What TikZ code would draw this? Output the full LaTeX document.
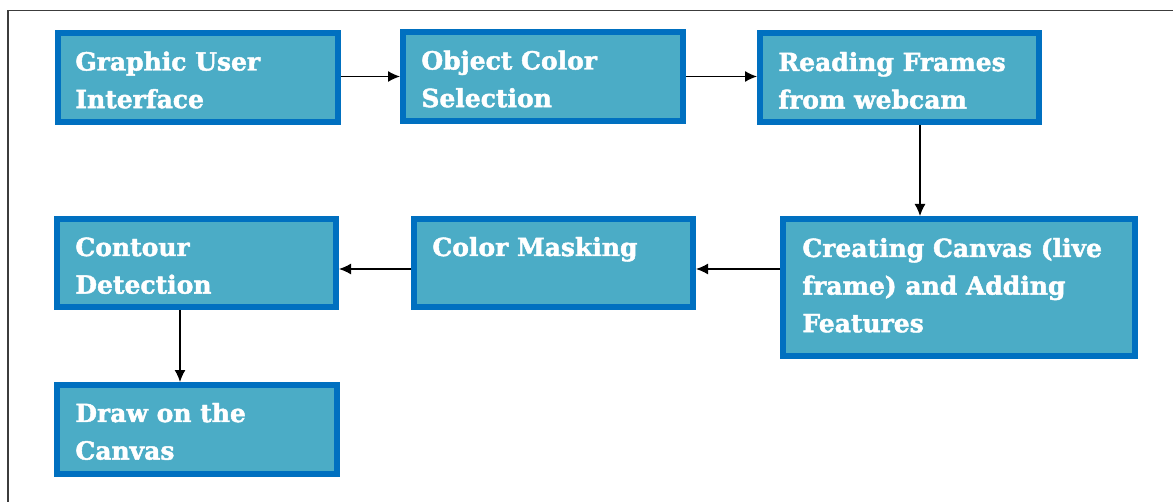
\documentclass[tikz,border=0pt]{standalone}
\usepackage{fontspec}
\newfontfamily\stepfont[FakeBold=1.8]{DejaVu Serif Bold}
\usetikzlibrary{shadows,arrows.meta,calc}
\definecolor{boxedge}{RGB}{0,112,192}
\definecolor{boxfill}{RGB}{75,172,198}
\definecolor{framecol}{RGB}{60,60,60}
\tikzset{
  stepbox/.style 2 args={draw=boxedge, fill=boxfill, line width=3pt, inner sep=0pt,
    minimum width=#1, minimum height=#2,
    drop shadow={shadow xshift=1.2pt, shadow yshift=-1.2pt, fill=black!35, opacity=0.5}},
  steptext/.style={anchor=base west, inner sep=0pt, text=white,
    font=\stepfont\fontsize{12.5}{18.8}\selectfont},
  flow/.style={line width=0.65pt, black, -{Latex[length=6pt,width=5.5pt]}},
}
\newcommand{\steplines}[1]{\parbox[t]{175pt}{\raggedright #1}}
\begin{document}
\begin{tikzpicture}[x=0.5pt,y=-0.5pt]
  \useasboundingbox (0,0) rectangle (1173,502);
  % page frame (top and left edges)
  \draw[framecol, line width=0.8pt] (8,502) -- (8,10.5) -- (1173,10.5);

  % process boxes
  \node[stepbox={140pt}{44.5pt}] (gui)    at (198,78) {};
  \node[stepbox={140pt}{44.5pt}] (obj)    at (543,77) {};
  \node[stepbox={139.5pt}{44.5pt}] (read) at (899.5,77.5) {};
  \node[stepbox={176pt}{68.5pt}] (create) at (959,287.5) {};
  \node[stepbox={139.5pt}{44pt}] (mask)   at (553.5,263) {};
  \node[stepbox={139.5pt}{44pt}] (cont)   at (196.5,263) {};
  \node[stepbox={140pt}{44.5pt}] (drawc)  at (197,429.5) {};

  % box captions
  \node[steptext] (gui-t)    at ($(gui.north west)+(20,40)$)    {\steplines{Graphic User\\Interface}};
  \node[steptext] (obj-t)    at ($(obj.north west)+(21,40)$)    {\steplines{Object Color\\Selection}};
  \node[steptext] (read-t)   at ($(read.north west)+(21,41)$)   {\steplines{Reading Frames\\from webcam}};
  \node[steptext] (create-t) at ($(create.north west)+(22,41)$) {\steplines{Creating Canvas (live\\frame) and Adding\\Features}};
  \node[steptext] (mask-t)   at ($(mask.north west)+(21,40)$)   {\steplines{Color Masking}};
  \node[steptext] (cont-t)   at ($(cont.north west)+(21,40)$)   {\steplines{Contour\\Detection}};
  \node[steptext] (drawc-t)  at ($(drawc.north west)+(21,40)$)  {\steplines{Draw on the\\Canvas}};

  % connectors
  \coordinate (row1) at (0,76.5);
  \coordinate (row2) at (0,269);
  \coordinate (col1) at (920,0);
  \coordinate (col2) at (180,0);
  \draw[flow] (gui.east |- row1) -- (obj.west |- row1);
  \draw[flow] (obj.east |- row1) -- (read.west |- row1);
  \draw[flow] (read.south -| col1) -- (create.north -| col1);
  \draw[flow] (create.west |- row2) -- (mask.east |- row2);
  \draw[flow] (mask.west |- row2) -- (cont.east |- row2);
  \draw[flow] (cont.south -| col2) -- (drawc.north -| col2);
\end{tikzpicture}
\end{document}
